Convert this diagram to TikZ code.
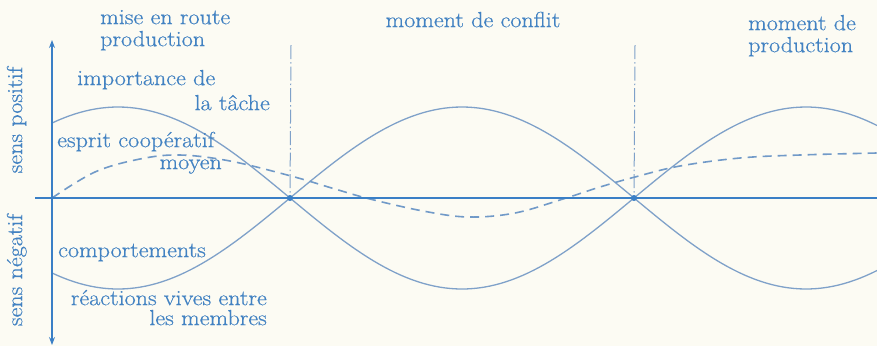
\documentclass[tikz,border=0pt]{standalone}
\usepackage{fontspec}
\newfontfamily\lblfont{Latin Modern Roman}[FakeBold=0.5]
\usetikzlibrary{arrows.meta}
\definecolor{bgc}{HTML}{FCFBF3}
\definecolor{txtc}{HTML}{4282C2}
\definecolor{axc}{HTML}{3A7FC6}
\definecolor{curc}{HTML}{7FA1C9}
\newcommand{\wtxt}[1]{\scalebox{1.1}[1]{#1}}
\begin{document}
\begin{tikzpicture}[x=1bp,y=-1bp,
  lbl/.style={inner sep=0pt, text=txtc, font=\lblfont\fontsize{22}{23}\selectfont},
  curve/.style={draw=curc, line width=1.3bp},
  axisline/.style={draw=axc, line width=2bp},
  phase/.style={draw=curc, line width=1bp, dash pattern=on 14bp off 3bp on 1.5bp off 3bp}]
\fill[bgc] (0,0) rectangle (877,346);
\useasboundingbox (0,0) rectangle (877,346);
% coordinates
\coordinate (o) at (52,198);
\coordinate (xl) at (35,198);
\coordinate (xr) at (877,198);
\coordinate (yt) at (52,40);
\coordinate (yb) at (52,345);
\coordinate (c1) at (290,198);
\coordinate (c2) at (634,198);
\coordinate (v1t) at (291,45);
\coordinate (v2t) at (635,45);
% phase separators
\draw[phase] (v1t) -- (c1);
\draw[phase] (v2t) -- (c2);
% sine curves
\draw[curve] plot[domain=52:877, samples=150] (\x, {198+91*sin(0.52326*(\x-290))});
\draw[curve] plot[domain=52:877, samples=150] (\x, {198-91*sin(0.52326*(\x-290))});
% dashed average
\draw[curc!80!axc, line width=1.6bp, dash pattern=on 9bp off 6bp] plot[smooth, tension=0.6] coordinates {
 (52,198) (95,172) (140,159) (180,155) (230,161) (291,176) (335,189) (370,199)
 (423,211) (468,217) (515,213) (563,199) (600,187) (635,177) (680,166) (740,158) (800,155) (877,153)};
% axes
\draw[axisline] (xl) -- (xr);
\draw[draw=axc, line width=1.2bp, -{Stealth[length=8bp,width=6bp]}] (o) -- (yt);
\draw[draw=axc, line width=1.2bp, -{Stealth[length=8bp,width=6bp]}] (o) -- (yb);
\fill[axc] (c1) circle (3bp);
\fill[axc] (c2) circle (3bp);
% labels
\node[lbl, anchor=mid west] (t1a) at (100,22) {\wtxt{mise en route}};
\node[lbl, anchor=mid west] (t1b) at (100,44) {\wtxt{production}};
\node[lbl, anchor=mid] (t2) at (473,25) {\wtxt{moment de conflit}};
\node[lbl, anchor=mid west] (t3a) at (748,28) {\wtxt{moment de}};
\node[lbl, anchor=mid west] (t3b) at (748,50) {\wtxt{production}};
\node[lbl, anchor=mid west] (imp) at (77,83) {\wtxt{importance de}};
\node[lbl, anchor=mid east] (tac) at (270,108) {\wtxt{la tâche}};
\node[lbl, anchor=mid west] (esp) at (57,145) {\wtxt{esprit coopératif}};
\node[lbl, anchor=mid east] (moy) at (222,167) {\wtxt{moyen}};
\node[lbl, anchor=mid west] (comp) at (58,255) {\wtxt{comportements}};
\node[lbl, anchor=mid east] (rea) at (267,303) {\wtxt{réactions vives entre}};
\node[lbl, anchor=mid east] (mem) at (267,323) {\wtxt{les membres}};
\node[lbl, rotate=90, anchor=mid] (pos) at (20,120) {\wtxt{sens positif}};
\node[lbl, rotate=90, anchor=mid] (neg) at (20,270) {\wtxt{sens négatif}};
\end{tikzpicture}
\end{document}
